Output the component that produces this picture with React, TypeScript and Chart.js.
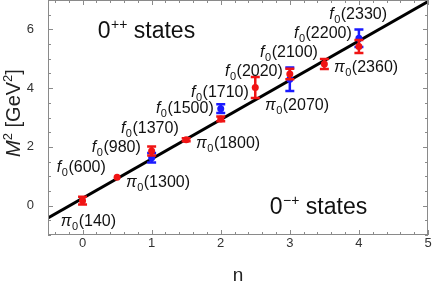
import React, { useEffect, useRef } from "react";
import { Chart, registerables } from "chart.js";
Chart.register(...registerables);

const xTickValues = [0, 1, 2, 3, 4, 5];
const yTickValues = [0, 2, 4, 6];

const redN = [0, 0.5, 1, 1.5, 2, 2.5, 3, 3.5, 4];
const redM2 = [0.17, 0.97, 1.86, 2.24, 2.95, 4.02, 4.48, 4.82, 5.42];
const redErr = [0.13, 0.0, 0.15, 0.05, 0.08, 0.36, 0.18, 0.17, 0.22];

const blueN = [1, 2, 3, 4];
const blueM2 = [1.63, 3.3, 4.3, 5.7];
const blueErr = [0.16, 0.15, 0.4, 0.3];

const fitN = [-0.5, 5];
const fitM2 = [-0.42, 6.95];

const labelSymbol = ["f", "f", "f", "f", "f", "f", "f", "f", "f", "π", "π", "π", "π", "π"];
const labelMass = ["600", "980", "1370", "1500", "1710", "2020", "2100", "2200", "2330", "140", "1300", "1800", "2070", "2360"];
const labelN = [-0.372, 0.135, 0.555, 1.062, 1.57, 2.062, 2.57, 3.06, 3.57, -0.314, 0.628, 1.643, 2.64, 3.64];
const labelM2 = [1.32, 2.0, 2.65, 3.33, 3.88, 4.6, 5.25, 5.9, 6.54, -0.49, 0.81, 2.14, 3.44, 4.73];

const regionText = ["states", "states"];
const regionSup = ["++", "−+"];
const regionN = [0.22, 2.71];
const regionM2 = [5.72, -0.28];

const xTitle = "n";
const FONT = '"Liberation Sans", Arial, sans-serif';

const errorBarPlugin = {
  id: "errorBars",
  afterDatasetDraw(chart: any, args: any) {
    const ds = chart.data.datasets[args.index];
    if (!ds.errs) return;
    const xs = chart.scales.x;
    const ys = chart.scales.y;
    const ctx = chart.ctx;
    ctx.save();
    ctx.strokeStyle = ds.backgroundColor;
    ctx.lineWidth = 2.5;
    ds.data.forEach((p: any, i: number) => {
      const e = ds.errs[i];
      if (!e) return;
      const x = xs.getPixelForValue(p.x);
      const y1 = ys.getPixelForValue(p.y - e);
      const y2 = ys.getPixelForValue(p.y + e);
      ctx.beginPath();
      ctx.moveTo(x, y1);
      ctx.lineTo(x, y2);
      ctx.moveTo(x - 4.5, y1);
      ctx.lineTo(x + 4.5, y1);
      ctx.moveTo(x - 4.5, y2);
      ctx.lineTo(x + 4.5, y2);
      ctx.stroke();
    });
    ctx.restore();
  },
};

const framePlugin = {
  id: "frameAndText",
  afterDraw(chart: any) {
    const ctx = chart.ctx;
    const { left, right, top, bottom } = chart.chartArea;
    const xs = chart.scales.x;
    const ys = chart.scales.y;
    ctx.save();
    ctx.strokeStyle = "#8a8a8a";
    ctx.lineWidth = 1;
    ctx.strokeRect(left + 0.5, top + 0.5, right - left - 1, bottom - top - 1);
    for (let k = -2; k <= 25; k++) {
      const v = k * 0.2;
      if (v < -0.5 || v > 5) continue;
      const major = k % 5 === 0;
      const len = major ? 5 : 3;
      const x = Math.round(xs.getPixelForValue(v)) + 0.5;
      ctx.beginPath();
      ctx.moveTo(x, bottom);
      ctx.lineTo(x, bottom - len);
      ctx.moveTo(x, top);
      ctx.lineTo(x, top + len);
      ctx.stroke();
    }
    for (let k = -2; k <= 14; k++) {
      const v = k * 0.5;
      const major = k % 4 === 0;
      const len = major ? 5 : 3;
      const y = Math.round(ys.getPixelForValue(v)) + 0.5;
      ctx.beginPath();
      ctx.moveTo(left, y);
      ctx.lineTo(left + len, y);
      ctx.moveTo(right, y);
      ctx.lineTo(right - len, y);
      ctx.stroke();
    }
    ctx.fillStyle = "#111";
    ctx.textBaseline = "alphabetic";
    ctx.textAlign = "left";
    for (let i = 0; i < labelMass.length; i++) {
      const x = xs.getPixelForValue(labelN[i]);
      const base = ys.getPixelForValue(labelM2[i]) + 5.5;
      ctx.font = `italic 16px ${FONT}`;
      ctx.fillText(labelSymbol[i], x, base);
      let cx = x + ctx.measureText(labelSymbol[i]).width + 0.5;
      ctx.font = `11px ${FONT}`;
      ctx.fillText("0", cx, base + 4);
      cx += ctx.measureText("0").width + 0.5;
      ctx.font = `16px ${FONT}`;
      ctx.fillText("(" + labelMass[i] + ")", cx, base);
    }
    for (let i = 0; i < regionText.length; i++) {
      const x = xs.getPixelForValue(regionN[i]);
      const base = ys.getPixelForValue(regionM2[i]);
      ctx.font = `23px ${FONT}`;
      ctx.fillText("0", x, base);
      let cx = x + ctx.measureText("0").width + 0.5;
      ctx.font = `14px ${FONT}`;
      ctx.fillText(regionSup[i], cx, base - 9);
      cx += ctx.measureText(regionSup[i]).width;
      ctx.font = `23px ${FONT}`;
      ctx.fillText(" " + regionText[i], cx, base);
    }
    ctx.fillStyle = "#222";
    ctx.font = `19px ${FONT}`;
    ctx.textAlign = "center";
    ctx.fillText(xTitle, (left + right) / 2, 281);
    ctx.translate(20, 113);
    ctx.rotate(-Math.PI / 2);
    const parts: [string, string, number][] = [
      ["M", "italic 20px", 0],
      ["2", "13px", -8],
      [" [GeV", "20px", 0],
      ["2", "13px", -8],
      ["]", "20px", 0],
    ];
    let total = 0;
    for (const [t, f] of parts) {
      ctx.font = `${f} ${FONT}`;
      total += ctx.measureText(t).width;
    }
    let px = -total / 2;
    ctx.textAlign = "left";
    for (const [t, f, dy] of parts) {
      ctx.font = `${f} ${FONT}`;
      ctx.fillText(t, px, dy);
      px += ctx.measureText(t).width;
    }
    ctx.restore();
  },
};

export default function App() {
  const ref = useRef<HTMLCanvasElement>(null);
  useEffect(() => {
    if (!ref.current) return;
    const chart = new Chart(ref.current, {
      type: "scatter",
      data: {
        datasets: [
          {
            type: "line",
            data: fitN.map((x, i) => ({ x, y: fitM2[i] })),
            borderColor: "#000",
            borderWidth: 3,
            pointRadius: 0,
            order: 3,
          } as any,
          {
            data: blueN.map((x, i) => ({ x, y: blueM2[i] })),
            errs: blueErr,
            backgroundColor: "#1a1aff",
            borderWidth: 0,
            pointRadius: 3.5,
            order: 2,
          } as any,
          {
            data: redN.map((x, i) => ({ x, y: redM2[i] })),
            errs: redErr,
            backgroundColor: "#f01414",
            borderWidth: 0,
            pointRadius: 3.5,
            order: 1,
          } as any,
        ],
      },
      options: {
        animation: false,
        responsive: false,
        maintainAspectRatio: false,
        layout: { autoPadding: false, padding: { top: 0, right: 4, left: 0, bottom: 0 } },
        plugins: { legend: { display: false }, tooltip: { enabled: false }, title: { display: false } },
        scales: {
          x: {
            type: "linear",
            min: -0.5,
            max: 5,
            afterBuildTicks: (s: any) => {
              s.ticks = xTickValues.map((v) => ({ value: v }));
            },
            afterFit: (s: any) => {
              s.height = 50;
              s.paddingLeft = 0;
              s.paddingRight = 0;
            },
            grid: { display: false, drawTicks: false },
            border: { display: false },
            ticks: { font: { size: 13, family: FONT }, color: "#333", padding: 1, maxRotation: 0 },
          },
          y: {
            type: "linear",
            min: -1,
            max: 7,
            afterBuildTicks: (s: any) => {
              s.ticks = yTickValues.map((v) => ({ value: v }));
            },
            afterFit: (s: any) => {
              s.width = 48;
              s.paddingTop = 0;
              s.paddingBottom = 0;
            },
            grid: { display: false, drawTicks: false },
            border: { display: false },
            ticks: { font: { size: 13, family: FONT }, color: "#333", padding: 14 },
          },
        },
      },
      plugins: [errorBarPlugin, framePlugin],
    });
    return () => chart.destroy();
  }, []);
  return (
    <div style={{ position: "fixed", left: 0, top: 0, width: 432, height: 285 }}>
      <canvas ref={ref} width={432} height={285} style={{ width: 432, height: 285 }} />
    </div>
  );
}
